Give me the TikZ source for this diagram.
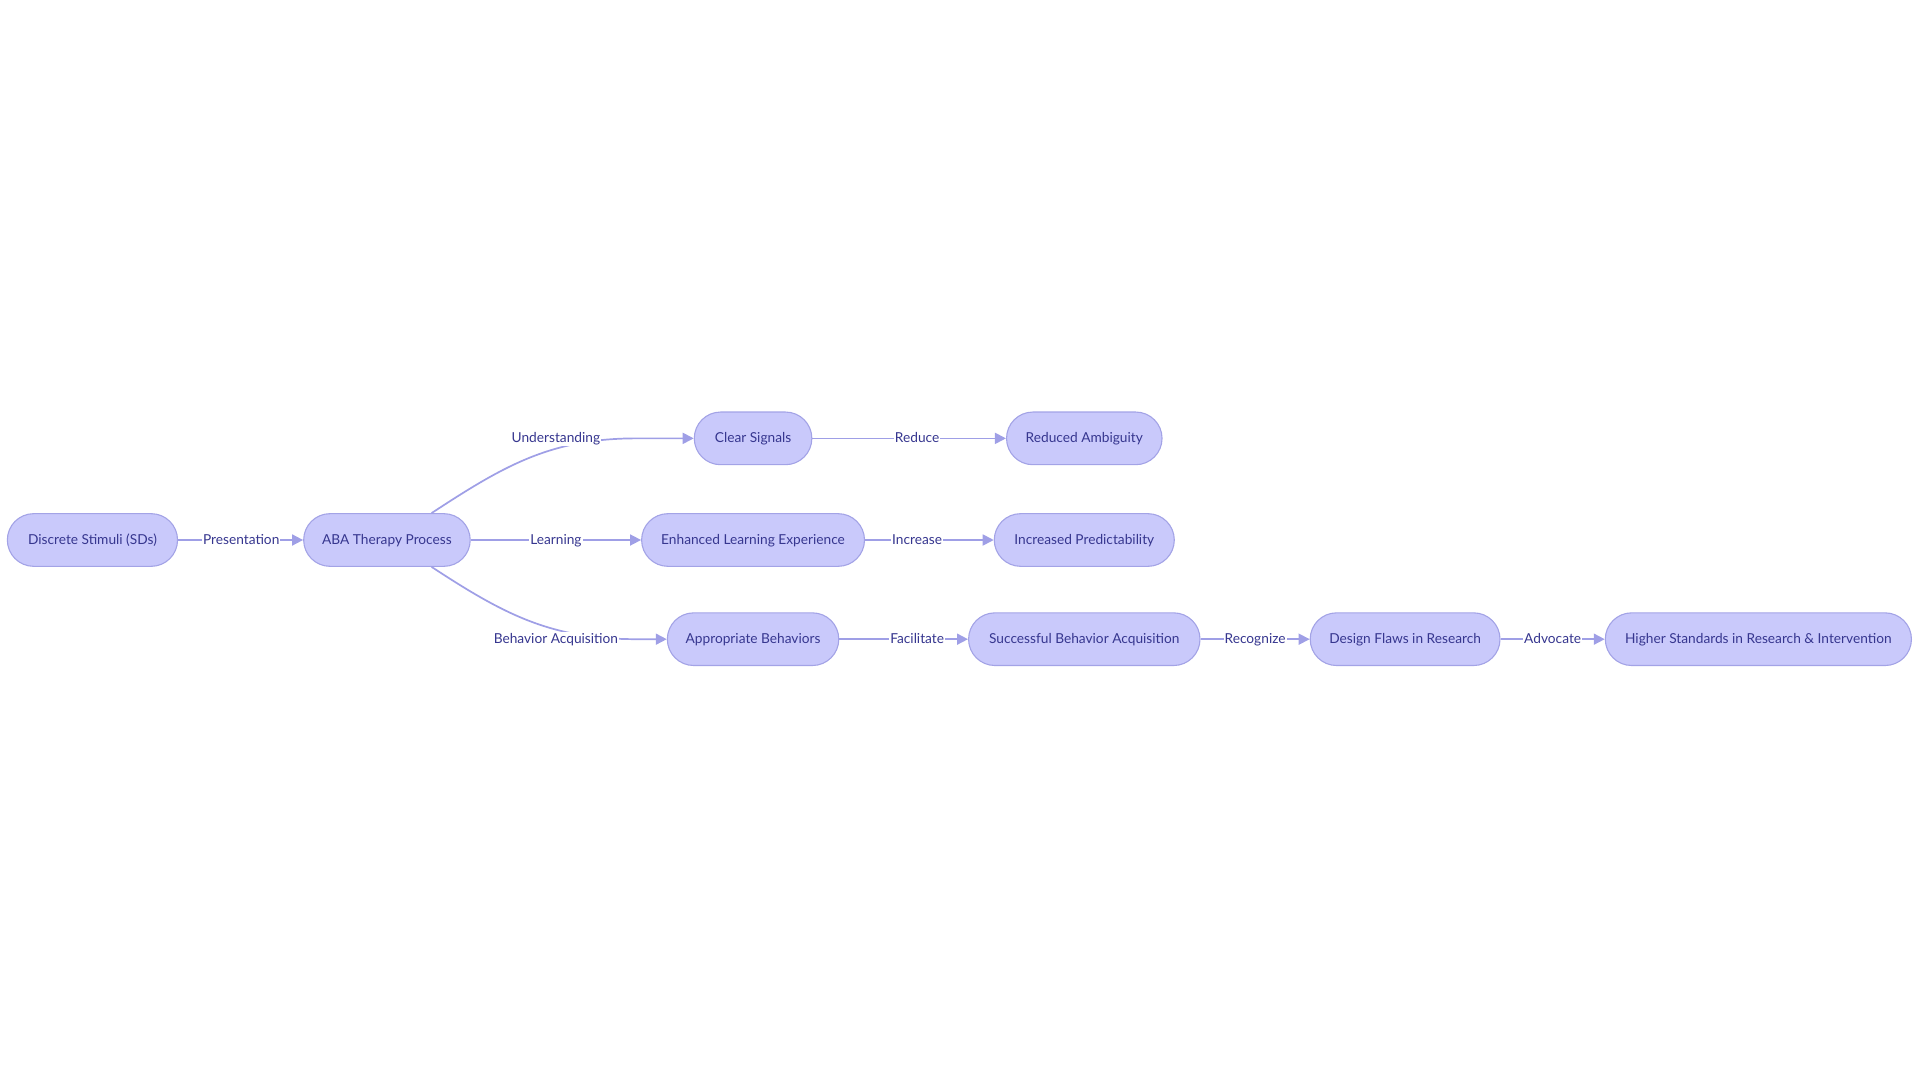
\documentclass[tikz,border=0pt]{standalone}
\usepackage{fontspec}
\setmainfont{Lato}
\usetikzlibrary{arrows.meta}
\definecolor{nodefill}{HTML}{C9C9FB}
\definecolor{nodedraw}{HTML}{A3A3E6}
\definecolor{edgecol}{HTML}{9F9FE6}
\definecolor{txtcol}{HTML}{36368F}
\begin{document}
\begin{tikzpicture}[x=1pt,y=-1pt,
  box/.style={draw=nodedraw, fill=nodefill, line width=0.9pt, rounded corners=21.5pt,
    minimum height=43pt, inner sep=0pt, text height=9pt, text depth=1.5pt,
    text=txtcol, font=\fontsize{11.2}{13}\selectfont},
  lbl/.style={fill=white, inner sep=0.8pt, text height=9pt, text depth=1.5pt,
    text=txtcol, font=\fontsize{11.2}{13}\selectfont},
  edge/.style={draw=edgecol, line width=1.4pt, -{Triangle[length=9pt,width=9pt]}}]
\useasboundingbox (0,0) rectangle (1568,882);
\node[box, minimum width=139pt] (ds) at (75.5,441) {Discrete Stimuli (SDs)};
\node[box, minimum width=136pt] (aba) at (316,441) {ABA Therapy Process};
\node[box, minimum width=96pt] (cs) at (615,358) {Clear Signals};
\node[box, minimum width=127pt] (ra) at (885.5,358) {Reduced Ambiguity};
\node[box, minimum width=182pt] (ele) at (615,441) {Enhanced Learning Experience};
\node[box, minimum width=147pt] (ip) at (885.5,441) {Increased Predictability};
\node[box, minimum width=140pt] (ab) at (615,522) {Appropriate Behaviors};
\node[box, minimum width=189pt] (sba) at (885.5,522) {Successful Behavior Acquisition};
\node[box, minimum width=155pt] (df) at (1147.5,522) {Design Flaws in Research};
\node[box, minimum width=250pt] (hs) at (1436,522) {Higher Standards in Research \& Intervention};
% edges
\draw[edge] (ds) -- (aba);
\draw[edge] (aba.north east) ++(-32,0) coordinate (u0)
  (u0) .. controls (412,380) and (450,358) .. (520,358) -- (cs.west);
\draw[edge] (aba) -- (ele);
\draw[edge] (aba.south east) ++(-32,0) coordinate (b0)
  (b0) .. controls (412,502) and (450,522) .. (520,522) -- (ab.west);
\draw[edge] (cs) -- (ra);
\draw[edge] (ele) -- (ip);
\draw[edge] (ab) -- (sba);
\draw[edge] (sba) -- (df);
\draw[edge] (df) -- (hs);
% labels
\node[lbl] (l1) at (197,441) {Presentation};
\node[lbl] (l2) at (454,358) {Understanding};
\node[lbl] (l3) at (454,441) {Learning};
\node[lbl] (l4) at (454,522) {Behavior Acquisition};
\node[lbl] (l5) at (749,358) {Reduce};
\node[lbl] (l6) at (749,441) {Increase};
\node[lbl] (l7) at (749,522) {Facilitate};
\node[lbl] (l8) at (1025,522) {Recognize};
\node[lbl] (l9) at (1268,522) {Advocate};
\end{tikzpicture}
\end{document}
